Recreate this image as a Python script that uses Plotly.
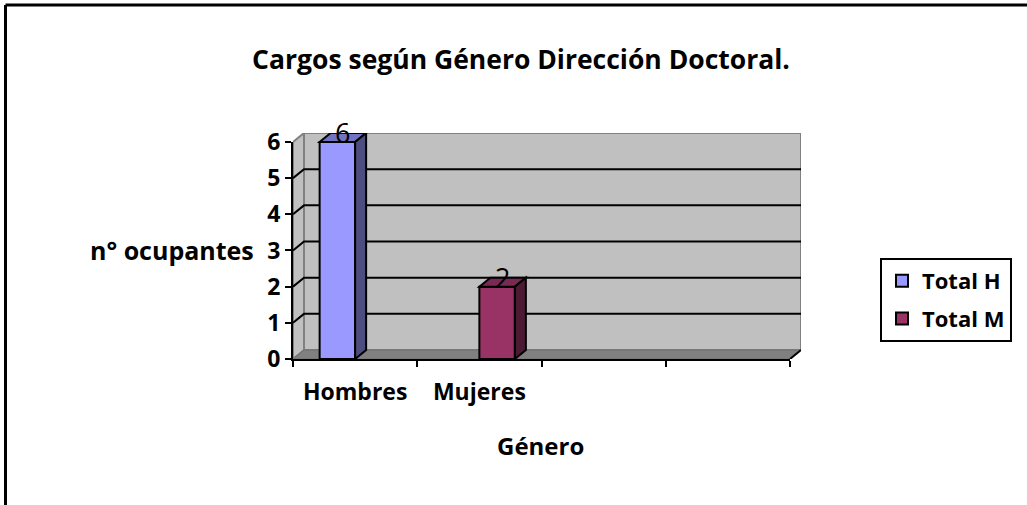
import plotly.graph_objects as go

# ---- data ----
categories = ["Hombres", "Mujeres", "", ""]
series_names = ["Total H", "Total M"]
total_h = [6, 0]
total_m = [0, 2]
y_ticks = [0, 1, 2, 3, 4, 5, 6]
title_text = "Cargos según Género Dirección Doctoral."
x_title = "Género"
y_title = "n° ocupantes"

# ---- style / geometry ----
FONT = "Open Sans"
front_colors = ["#9999FF", "#993366"]
top_colors = ["#7272C4", "#7A2952"]
side_colors = ["#4D4D80", "#4D1A33"]
WALL = "#C0C0C0"
FLOOR = "#808080"

W, H = 1027, 505
L, R_ = 293, 801          # plot area px (x)
B, T = 359, 133           # plot area px (y)
ncat = len(categories)
cat_px = (790 - L) / ncat
ox = 11 / cat_px          # depth offset in x units
ymax = max(y_ticks)
unit_px = (B - 141) / ymax
oy = 9 / unit_px          # depth offset in y units
gap = 1.5 / 3.5
bw = (1 - gap) / 2

xr2 = [-0.5, ncat - 0.5 + ox]
yr2 = [0, ymax + oy]

fig = go.Figure()

series = [total_h, total_m]
offsets = [-bw, 0]
xs = list(range(len(total_h)))
for i, (name, vals) in enumerate(zip(series_names, series)):
    # zero-height bars are not visible in the original, so only non-zero values are drawn
    px_ = [x for x, v in zip(xs, vals) if v]
    py_ = [v for v in vals if v]
    fig.add_trace(go.Bar(
        x=px_, y=py_, name=name, width=bw, offset=offsets[i],
        marker=dict(color=front_colors[i], line=dict(color="black", width=2)),
        xaxis="x2", yaxis="y2", legendgroup=name,
    ))
# invisible helper traces so that the tick axes are rendered
fig.add_trace(go.Scatter(x=[0], y=[0], mode="none", xaxis="x", yaxis="y",
                         showlegend=False, hoverinfo="skip"))
fig.add_trace(go.Scatter(x=[0], y=[0], mode="none", xaxis="x3", yaxis="y",
                         showlegend=False, hoverinfo="skip"))

shapes = []
def path(pts):
    return "M " + " L ".join(f"{x},{y}" for x, y in pts) + " Z"

# walls and floor
x0, x1 = -0.5, ncat - 0.5
shapes.append(dict(type="path", xref="x2", yref="y2", layer="below",
                   path=path([(x0 + ox, oy), (x1 + ox, oy), (x1 + ox, ymax + oy), (x0 + ox, ymax + oy)]),
                   fillcolor=WALL, line=dict(color="#808080", width=2)))
shapes.append(dict(type="path", xref="x2", yref="y2", layer="below",
                   path=path([(x0, 0), (x0 + ox, oy), (x0 + ox, ymax + oy), (x0, ymax)]),
                   fillcolor=WALL, line=dict(color="#808080", width=2)))
shapes.append(dict(type="path", xref="x2", yref="y2", layer="below",
                   path=path([(x0, 0), (x1, 0), (x1 + ox, oy), (x0 + ox, oy)]),
                   fillcolor=FLOOR, line=dict(color="#707070", width=1)))
# gridlines
for v in y_ticks[1:-1]:
    shapes.append(dict(type="path", xref="x2", yref="y2", layer="below",
                       path=f"M {x0},{v} L {x0 + ox},{v + oy} L {x1 + ox},{v + oy}",
                       line=dict(color="black", width=2)))
# axis end diagonal
shapes.append(dict(type="line", xref="x2", yref="y2", layer="above",
                   x0=x1, y0=0, x1=x1 + ox, y1=oy, line=dict(color="black", width=2)))

# 3D faces of bars
for i, vals in enumerate(series):
    for xi, v in zip(xs, vals):
        if not v:
            continue
        a = xi + offsets[i]
        b = a + bw
        shapes.append(dict(type="path", xref="x2", yref="y2", layer="above",
                           path=path([(a, v), (b, v), (b + ox, v + oy), (a + ox, v + oy)]),
                           fillcolor=top_colors[i], line=dict(color="black", width=2)))
        shapes.append(dict(type="path", xref="x2", yref="y2", layer="above",
                           path=path([(b, 0), (b + ox, oy), (b + ox, v + oy), (b, v)]),
                           fillcolor=side_colors[i], line=dict(color="black", width=2)))

# outer chart border (top and left)
def px2paper(px, py):
    return (px - L) / (R_ - L), (B - py) / (B - T)
bx0, by0 = px2paper(5.5, 5)
bx1, by1 = px2paper(W + 5, H + 5)
shapes.append(dict(type="line", xref="paper", yref="paper", x0=bx0, y0=by0, x1=bx1, y1=by0,
                   line=dict(color="black", width=3)))
shapes.append(dict(type="line", xref="paper", yref="paper", x0=bx0, y0=by0, x1=bx0, y1=by1,
                   line=dict(color="black", width=3)))

annotations = []
for i, vals in enumerate(series):
    for xi, v in zip(xs, vals):
        if not v:
            continue
        annotations.append(dict(x=xi + offsets[i] + bw / 2 + ox / 2, y=v, xref="x2", yref="y2",
                                text=str(v), showarrow=False, yanchor="bottom", yshift=-11,
                                font=dict(family=FONT, size=27, color="black")))
ax_, ay_ = px2paper(256, 250)
annotations.append(dict(x=ax_, y=ay_, xref="paper", yref="paper", text=f"<b>{y_title}</b>",
                        showarrow=False, xanchor="right", yanchor="middle",
                        font=dict(family=FONT, size=25, color="black")))
gx, gy = px2paper(540, 445)
annotations.append(dict(x=gx, y=gy, xref="paper", yref="paper", text=f"<b>{x_title}</b>",
                        showarrow=False, xanchor="center", yanchor="middle",
                        font=dict(family=FONT, size=24, color="black")))

fx = (ncat) / (ncat + ox)
fy = ymax / (ymax + oy)
bold = dict(family=FONT, size=23, color="black", weight="bold")

fig.update_layout(
    width=W, height=H,
    margin=dict(l=L, r=W - R_, t=T, b=H - B, autoexpand=False),
    paper_bgcolor="white", plot_bgcolor="rgba(0,0,0,0)",
    title=dict(text=f"<b>{title_text}</b>", x=521 / W, y=1 - 60 / H, xref="container", yref="container",
               xanchor="center", yanchor="middle", font=dict(family=FONT, size=26.5, color="black")),
    barmode="overlay",
    xaxis2=dict(domain=[0, 1], range=xr2, visible=False, anchor="y2"),
    yaxis2=dict(domain=[0, 1], range=yr2, visible=False, anchor="x2"),
    xaxis=dict(domain=[0, fx], range=[-0.5, ncat - 0.5], anchor="y",
               tickmode="array", tickvals=[k - 0.5 for k in range(ncat + 1)],
               ticks="outside", ticklen=6, tickwidth=2, tickcolor="black",
               showticklabels=False, showline=True, linecolor="black", linewidth=2,
               showgrid=False, zeroline=False, fixedrange=True),
    xaxis3=dict(overlaying="x", range=[-0.5, ncat - 0.5], anchor="y", side="bottom",
                tickmode="array", tickvals=list(range(ncat)), ticktext=categories,
                ticks="", showline=False, showgrid=False, zeroline=False,
                tickfont=bold, ticklabelstandoff=17),
    yaxis=dict(domain=[0, fy], range=[0, ymax], anchor="x",
               tickmode="array", tickvals=y_ticks, ticks="outside", ticklen=6, tickwidth=2,
               tickcolor="black", showline=True, linecolor="black", linewidth=2,
               showgrid=False, zeroline=False, tickfont=bold, ticklabelstandoff=0),
    legend=dict(xref="container", yref="container", x=880 / W, y=1 - 258 / H,
                xanchor="left", yanchor="top", bordercolor="black", borderwidth=2,
                bgcolor="white", font=dict(family=FONT, size=22, color="black", weight="bold"),
                traceorder="grouped", tracegroupgap=6, itemwidth=30),
    shapes=shapes, annotations=annotations,
    showlegend=True,
)

fig.write_html("out.html", config={"displayModeBar": False},
               post_script="document.body.style.margin='0px';")
